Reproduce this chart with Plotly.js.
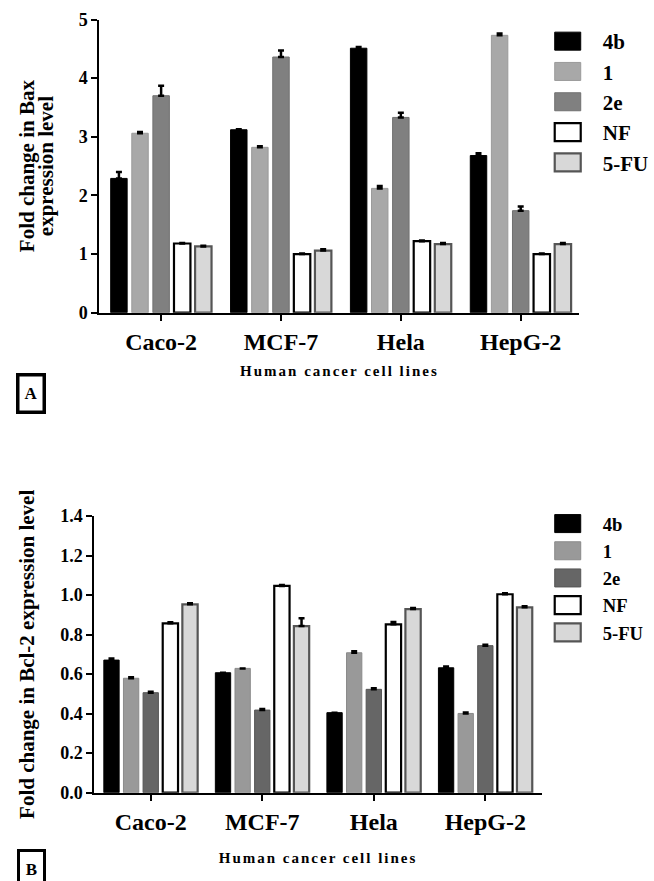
<!DOCTYPE html>
<html>
<head>
<meta charset="utf-8">
<script src="https://cdn.plot.ly/plotly-3.0.1.min.js"></script>
<style>
html,body{margin:0;padding:0;background:#fff;}
#chart{width:654px;height:881px;}
.g-xtitle text, .g-x2title text{letter-spacing:2px;}
</style>
</head>
<body>
<div id="chart"></div>
<script>
const cellLines = ["Caco-2", "MCF-7", "Hela", "HepG-2"];
const seriesNames = ["4b", "1", "2e", "NF", "5-FU"];

// Panel A: Bax fold change
const bax4b = [2.29, 3.12, 4.51, 2.68];
const bax1 = [3.06, 2.82, 2.12, 4.73];
const bax2e = [3.70, 4.36, 3.33, 1.74];
const baxNF = [1.18, 1.00, 1.22, 1.00];
const bax5FU = [1.13, 1.06, 1.17, 1.17];
const baxErr4b = [0.11, 0.01, 0.02, 0.04];
const baxErr1 = [0.02, 0.02, 0.04, 0.03];
const baxErr2e = [0.17, 0.11, 0.08, 0.07];
const baxErrNF = [0.01, 0.01, 0.01, 0.01];
const baxErr5FU = [0.01, 0.02, 0.02, 0.02];

// Panel B: Bcl-2 fold change
const bcl4b = [0.671, 0.607, 0.405, 0.632];
const bcl1 = [0.579, 0.629, 0.708, 0.401];
const bcl2e = [0.506, 0.418, 0.523, 0.744];
const bclNF = [0.857, 1.046, 0.852, 1.004];
const bcl5FU = [0.953, 0.843, 0.929, 0.938];
const bclErr4b = [0.008, 0.0, 0.0, 0.006];
const bclErr1 = [0.005, 0.0, 0.008, 0.005];
const bclErr2e = [0.005, 0.005, 0.005, 0.005];
const bclErrNF = [0.005, 0.005, 0.012, 0.005];
const bclErr5FU = [0.005, 0.04, 0.005, 0.005];

const W = 654, H = 881;
const px = v => v / W;
const py = v => 1 - v / H;

const serif = "Liberation Serif, Times New Roman, serif";

const stylesA = [
  {fill: "#000000", line: "#000000", lw: 1},
  {fill: "#a8a8a8", line: "#9a9a9a", lw: 1},
  {fill: "#808080", line: "#707070", lw: 1},
  {fill: "#ffffff", line: "#000000", lw: 2.2},
  {fill: "#d8d8d8", line: "#555555", lw: 2.2}
];
const stylesB = [
  {fill: "#000000", line: "#000000", lw: 1},
  {fill: "#999999", line: "#8a8a8a", lw: 1},
  {fill: "#666666", line: "#555555", lw: 1},
  {fill: "#ffffff", line: "#000000", lw: 2.2},
  {fill: "#d8d8d8", line: "#555555", lw: 2.2}
];

const dataA = [bax4b, bax1, bax2e, baxNF, bax5FU];
const errA = [baxErr4b, baxErr1, baxErr2e, baxErrNF, baxErr5FU];
const dataB = [bcl4b, bcl1, bcl2e, bclNF, bcl5FU];
const errB = [bclErr4b, bclErr1, bclErr2e, bclErrNF, bclErr5FU];

const traces = [];
seriesNames.forEach((name, i) => {
  traces.push({
    type: "bar", name: name, x: cellLines, y: dataA[i],
    xaxis: "x", yaxis: "y", legend: "legend", legendgroup: "a" + i,
    marker: {color: stylesA[i].fill, line: {color: stylesA[i].line, width: stylesA[i].lw}},
    error_y: {type: "data", symmetric: false, array: errA[i], arrayminus: errA[i].map(() => 0),
              color: "#000", thickness: 2.5, width: 3}
  });
});
seriesNames.forEach((name, i) => {
  traces.push({
    type: "bar", name: name, x: cellLines, y: dataB[i],
    xaxis: "x2", yaxis: "y2", legend: "legend2", legendgroup: "b" + i,
    marker: {color: stylesB[i].fill, line: {color: stylesB[i].line, width: stylesB[i].lw}},
    error_y: {type: "data", symmetric: false, array: errB[i], arrayminus: errB[i].map(() => 0),
              color: "#000", thickness: 2.5, width: 3}
  });
});

const tickFontY = {family: serif, size: 18, color: "#000", weight: "bold"};
const tickFontX = {family: serif, size: 24, color: "#000", weight: "bold"};
const titleFont = {family: serif, size: 21, color: "#000", weight: "bold"};
const xTitleFont = {family: serif, size: 15, color: "#000", weight: "bold"};

const axisBase = {showgrid: false, zeroline: false, showline: true, linecolor: "#000", linewidth: 2,
                  ticks: "outside", ticklen: 6, tickwidth: 2, tickcolor: "#000", automargin: false};

const layout = {
  width: W, height: H,
  margin: {l: 0, r: 0, t: 0, b: 0},
  paper_bgcolor: "#fff", plot_bgcolor: "#fff",
  barmode: "group", bargap: 0.12, bargroupgap: 0.22,
  showlegend: true,
  xaxis: Object.assign({}, axisBase, {
    domain: [px(100), px(583)], anchor: "y", range: [-0.515, 3.49],
    tickfont: tickFontX,
    title: {text: "Human cancer cell lines", font: xTitleFont, standoff: 12}
  }),
  yaxis: Object.assign({}, axisBase, {
    domain: [py(312.7), py(19.5)], anchor: "x", range: [0, 5], dtick: 1,
    tickfont: tickFontY,
    title: {text: "Fold change in Bax<br>expression level", font: titleFont, standoff: 11}
  }),
  xaxis2: Object.assign({}, axisBase, {
    domain: [px(95), px(545)], anchor: "y2", range: [-0.505, 3.505],
    tickfont: tickFontX,
    title: {text: "Human cancer cell lines", font: xTitleFont, standoff: 19}
  }),
  yaxis2: Object.assign({}, axisBase, {
    domain: [py(792.7), py(516)], anchor: "x2", range: [0, 1.4], dtick: 0.2, tickformat: ".1f",
    tickfont: tickFontY,
    title: {text: "Fold change in Bcl-2 expression level", font: titleFont, standoff: 20}
  }),
  legend: {
    x: px(536), y: py(21), xanchor: "left", yanchor: "top", itemwidth: 60,
    font: {family: serif, size: 21, color: "#000", weight: "bold"},
    traceorder: "grouped", tracegroupgap: 0, bgcolor: "rgba(0,0,0,0)", itemclick: false
  },
  legend2: {
    x: px(536), y: py(505), xanchor: "left", yanchor: "top", itemwidth: 60,
    font: {family: serif, size: 18.6, color: "#000", weight: "bold"},
    traceorder: "grouped", tracegroupgap: 0, bgcolor: "rgba(0,0,0,0)", itemclick: false
  },
  annotations: [
    {text: "A", xref: "paper", yref: "paper", x: px(31.5), y: py(393.5), xanchor: "center", yanchor: "middle",
     showarrow: false, font: {family: serif, size: 17, color: "#000", weight: "bold"},
     width: 19, height: 30, borderpad: 2, bordercolor: "#000", borderwidth: 3.5, bgcolor: "#fff"},
    {text: "B", xref: "paper", yref: "paper", x: px(31.5), y: py(869), xanchor: "center", yanchor: "middle",
     showarrow: false, font: {family: serif, size: 17, color: "#000", weight: "bold"},
     width: 19, height: 30, borderpad: 2, bordercolor: "#000", borderwidth: 3, bgcolor: "#fff"}
  ]
};

function restyleDecor(gd) {
  // larger legend swatches like the original figure
  gd.querySelectorAll(".legendpoints path").forEach(p => {
    p.setAttribute("d", "M-13,9H13V-9H-13Z");
  });
  // tighter line spacing on the two-line y title
  const yt = gd.querySelector(".g-ytitle text");
  if (yt) {
    const lines = yt.querySelectorAll("tspan.line");
    if (lines.length > 1) lines[1].setAttribute("dy", "0.92em");
  }
}

const gdEl = document.getElementById("chart");
Plotly.newPlot(gdEl, traces, layout, {displayModeBar: false, staticPlot: true}).then(gd => {
  restyleDecor(gd);
  gd.on("plotly_afterplot", () => restyleDecor(gd));
  requestAnimationFrame(() => restyleDecor(gd));
  setTimeout(() => restyleDecor(gd), 50);
  setTimeout(() => restyleDecor(gd), 300);
});
</script>
</body>
</html>
